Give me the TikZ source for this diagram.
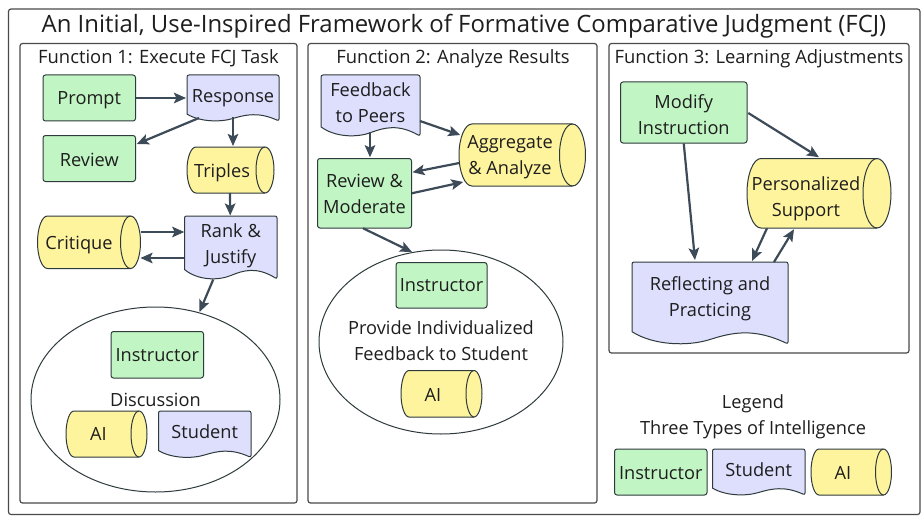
\documentclass[tikz,border=0pt]{standalone}
\usepackage{fontspec}
\setmainfont{Open Sans}
\usetikzlibrary{arrows.meta,calc,shapes.geometric}
\definecolor{gfill}{HTML}{C2F5C4}
\definecolor{pfill}{HTML}{DDDFFD}
\definecolor{yfill}{HTML}{FFF49E}
\definecolor{strokec}{HTML}{2E3A3C}
\definecolor{arrc}{HTML}{3D4A58}
\definecolor{framec}{HTML}{4A4A4A}
\definecolor{txtc}{HTML}{1E1E1E}
\tikzset{
  x=1pt,y=-1pt,
  lbl/.style={text=txtc,font=\fontsize{18.2}{26}\selectfont,align=center,inner sep=0pt},
  ttl/.style={text=txtc,font=\fontsize{23.9}{28}\selectfont,inner sep=0pt},
  head/.style={text=txtc,font=\fontsize{18.4}{26}\selectfont,inner sep=0pt},
  frameb/.style={draw=framec,line width=1.2pt,rounded corners=2.5pt,fill=white},
  greenb/.style={draw=strokec,line width=1pt,rounded corners=2.5pt,fill=gfill},
  shapeline/.style={draw=strokec,line width=1pt},
  ell/.style={draw=strokec,line width=1pt,fill=white},
  arr/.style={draw=arrc,line width=2.2pt,-{Stealth[length=12pt,width=10.5pt,inset=2.5pt]}},
}
% green box: name,x0,y0,x1,y1,text,text y
\newcommand{\gbox}[7]{%
  \node[greenb,minimum width={#4-#2},minimum height={#5-#3},inner sep=0pt,anchor=center] (#1) at ({(#2+#4)/2},{(#3+#5)/2}) {};
  \node[lbl] at ({(#2+#4)/2},#7) {#6};}
% document: name,x0,y0,x1,y1,text,text y
\newcommand{\docbox}[7]{%
  \path[shapeline,fill=pfill,rounded corners=2pt]
    (#2,{#5-0.15*(#5-#3)}) -- (#2,#3) -- (#4,#3) -- (#4,#5) [sharp corners]
    .. controls ({#4-0.22*(#4-#2)},{#5-0.2*(#5-#3)}) and ({#4-0.36*(#4-#2)},{#5-0.14*(#5-#3)}) .. ({#2+0.5*(#4-#2)},{#5-0.055*(#5-#3)})
    .. controls ({#2+0.36*(#4-#2)},{#5+0.03*(#5-#3)}) and ({#2+0.14*(#4-#2)},{#5+0.02*(#5-#3)}) .. (#2,{#5-0.15*(#5-#3)}) -- cycle;
  \node[minimum width={#4-#2},minimum height={#5-#3},inner sep=0pt] (#1) at ({(#2+#4)/2},{(#3+#5)/2}) {};
  \node[lbl] at ({(#2+#4)/2},#7) {#6};}
% cylinder: name,x0,y0,x1,y1,ellipse rx,text,text x,text y
\newcommand{\cylbox}[9]{%
  \path[shapeline,fill=yfill]
    ({#2+#6},#3) -- ({#4-#6},#3)
    .. controls ({#4-0.45*#6},#3) and (#4,{(#3+#5)/2-0.276*(#5-#3)}) .. (#4,{(#3+#5)/2})
    .. controls (#4,{(#3+#5)/2+0.276*(#5-#3)}) and ({#4-0.45*#6},#5) .. ({#4-#6},#5)
    -- ({#2+#6},#5)
    .. controls ({#2+0.45*#6},#5) and (#2,{(#3+#5)/2+0.276*(#5-#3)}) .. (#2,{(#3+#5)/2})
    .. controls (#2,{(#3+#5)/2-0.276*(#5-#3)}) and ({#2+0.45*#6},#3) .. ({#2+#6},#3) -- cycle;
  \path[shapeline] ({#4-#6},#3)
    .. controls ({#4-1.55*#6},#3) and ({#4-2*#6},{(#3+#5)/2-0.276*(#5-#3)}) .. ({#4-2*#6},{(#3+#5)/2})
    .. controls ({#4-2*#6},{(#3+#5)/2+0.276*(#5-#3)}) and ({#4-1.55*#6},#5) .. ({#4-#6},#5);
  \node[minimum width={#4-#2},minimum height={#5-#3},inner sep=0pt] (#1) at ({(#2+#4)/2},{(#3+#5)/2}) {};
  \node[lbl] at (#8,#9) {#7};}
\newcommand{\from}[3]{([shift={(#2,#3)}]#1.center)}
\begin{document}
\begin{tikzpicture}
\useasboundingbox (0,0) rectangle (922,519);
\fill[white] (0,0) rectangle (922,519);
\path[frameb] (8.5,9) rectangle (920,514.5);
\node[ttl] (title) at (464,26.5) {An Initial, Use-Inspired Framework of Formative Comparative Judgment (FCJ)};
\path[frameb] (20,43.5) rectangle (297,503);
\path[frameb] (308,43.5) rectangle (597,503);
\path[frameb] (609,43.5) rectangle (909,353);
\node[head] (f1) at (158.5,58.5) {Function 1: Execute FCJ Task};
\node[head] (f2) at (453,58.5) {Function 2: Analyze Results};
\node[head] (f3) at (759,58.5) {Function 3: Learning Adjustments};

% Function 1
\gbox{prompt}{43}{75}{135.5}{121}{Prompt}{100.5}
\gbox{review}{43}{135.5}{135.5}{181.5}{Review}{160}
\docbox{response}{187}{75}{279}{121}{Response}{98}
\cylbox{triples}{187}{147}{274}{193}{9}{Triples}{222}{172.5}
\cylbox{critique}{37.5}{216}{140.5}{268.5}{10}{Critique}{79}{245.5}
\docbox{rank}{184.5}{216}{277}{279}{Rank \&\\Justify}{246}
\node[ell,ellipse,minimum width=249pt,minimum height=185pt,inner sep=0pt] (disc) at (155.5,399.5) {};
\gbox{inst1}{111}{331.5}{203.5}{378}{Instructor}{355}
\node[lbl] (disctxt) at (155.5,400) {Discussion};
\cylbox{ai1}{66}{411}{147}{457}{8}{AI}{98.5}{434}
\docbox{stud1}{158.5}{411}{251}{457.5}{Student}{432}

\draw[arr] \from{prompt}{46.5}{0} -- \from{response}{-47}{0};
\draw[arr] \from{response}{-34}{20} -- \from{review}{47.5}{-14.5};
\draw[arr] \from{response}{0}{19} -- \from{triples}{2.5}{-24};
\draw[arr] \from{triples}{-0.5}{23} -- \from{rank}{-0.5}{-32};
\draw[arr] \from{critique}{51.5}{-10.25} -- \from{rank}{-46.5}{-15.5};
\draw[arr] \from{rank}{-46.5}{10.5} -- \from{critique}{51.5}{15.75};
\draw[arr] \from{rank}{-17.5}{32} -- \from{disc}{44}{-87.5};

% Function 2
\docbox{feedback}{321}{75}{420}{136}{Feedback\\to Peers}{103}
\cylbox{aggr}{459}{124}{585.5}{186}{13}{Aggregate\\\& Analyze}{510}{157}
\gbox{remod}{317.5}{158.5}{411.5}{228}{Review \&\\Moderate}{193.5}
\node[ell,ellipse,minimum width=244pt,minimum height=184pt,inner sep=0pt] (indiv) at (441,342) {};
\gbox{inst2}{396}{262.5}{487}{308}{Instructor}{285.5}
\node[lbl] (provide) at (441,341) {Provide Individualized\\Feedback to Student};
\cylbox{ai2}{401}{370.5}{482}{417}{8}{AI}{433}{394.5}

\draw[arr] \from{feedback}{49.5}{15.5} -- \from{aggr}{-62}{-20};
\draw[arr] \from{feedback}{-0.5}{26} -- \from{remod}{5.5}{-36};
\draw[arr] \from{aggr}{-63}{8} -- \from{remod}{48}{-21};
\draw[arr] \from{remod}{47.5}{0} -- \from{aggr}{-59}{27};
\draw[arr] \from{remod}{-1.5}{35} -- \from{indiv}{-29}{-90};

% Function 3
\gbox{modify}{620.5}{82}{747}{143}{Modify\\Instruction}{114.5}
\cylbox{pers}{747}{158.5}{891}{228}{14}{Personalized\\Support}{806}{198.5}
\docbox{reflect}{632}{262}{788}{344}{Reflecting and\\Practicing}{298.5}

\draw[arr] \from{modify}{64.5}{0.5} -- \from{pers}{0}{-36};
\draw[arr] \from{modify}{0}{31} -- \from{reflect}{-15}{-43};
\draw[arr] \from{pers}{-52}{35} -- \from{reflect}{42}{-42};
\draw[arr] \from{reflect}{64}{-41} -- \from{pers}{-25}{36};

% Legend
\node[lbl] (legend) at (753,417) {Legend\\Three Types of Intelligence};
\gbox{inst3}{614.5}{449}{707}{495}{Instructor}{473}
\docbox{stud3}{712.5}{449}{805}{495}{Student}{469.5}
\cylbox{ai3}{811}{449}{891.5}{495}{8}{AI}{843}{472.5}
\end{tikzpicture}
\end{document}
